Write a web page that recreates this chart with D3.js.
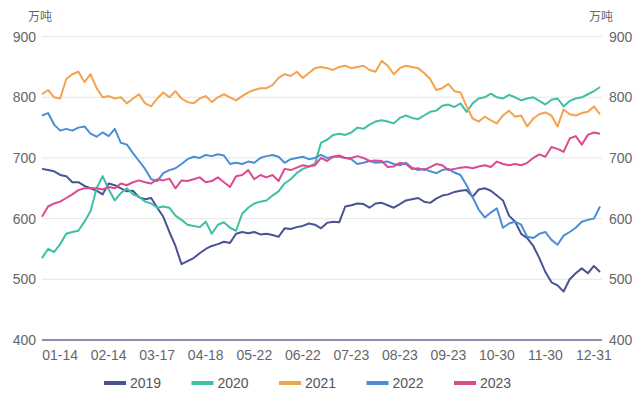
<!DOCTYPE html>
<html>
<head>
<meta charset="utf-8">
<script src="https://cdn.jsdelivr.net/npm/d3@7/dist/d3.min.js"></script>
<style>
  html, body { margin: 0; padding: 0; background: #ffffff; }
  svg { display: block; font-family: "Liberation Sans", Arial, sans-serif; }
</style>
</head>
<body>
<svg id="chart" width="635" height="395"></svg>
<script>
// Weekly-ish samples of each year's stock level (万吨), same sampling for every year
const years = ["2019", "2020", "2021", "2022", "2023"];

const s2019 = [682,680,678,672,670,660,660,654,650,646,640,658,655,650,645,646,635,632,634,618,
  603,578,555,525,530,535,543,550,555,558,562,560,575,578,576,578,574,575,573,570,
  584,583,586,588,592,590,584,593,595,594,620,622,625,624,618,625,626,622,618,624,
  630,632,634,628,626,633,638,640,644,646,647,636,648,650,646,638,630,605,595,575,
  568,555,535,512,495,490,480,500,510,518,510,522,512];

const s2020 = [535,550,545,558,575,578,580,595,612,650,670,648,630,642,650,640,636,628,625,618,
  620,618,605,598,590,588,586,595,575,590,594,585,580,608,618,625,628,630,638,645,
  658,665,675,682,686,690,725,730,738,740,738,742,750,748,755,760,762,760,757,766,
  770,766,764,770,776,778,786,788,784,790,776,790,798,800,806,800,798,804,800,795,
  798,800,794,788,796,798,785,794,798,800,805,810,817];

const s2021 = [805,812,800,798,830,838,842,825,838,815,800,802,798,800,790,798,805,790,785,798,
  808,800,810,798,792,790,798,802,792,800,805,800,795,802,808,812,815,815,820,832,
  838,835,842,832,840,848,850,848,845,850,852,848,850,852,845,842,860,852,838,848,
  852,850,848,840,830,812,815,822,810,808,785,765,760,768,762,757,770,778,768,770,
  752,765,772,775,770,752,780,772,770,774,776,785,772];

const s2022 = [770,774,755,745,748,745,750,752,740,735,742,736,748,725,722,708,695,682,665,662,
  675,680,683,690,698,702,700,705,703,706,704,690,692,690,694,692,700,703,705,702,
  692,698,700,702,698,700,705,700,702,702,700,698,690,692,695,692,693,694,690,688,
  692,684,680,682,678,675,680,682,676,672,655,635,615,602,610,617,585,592,595,590,
  570,568,575,578,565,557,572,578,585,595,598,600,620];

const s2023 = [603,620,625,628,634,640,647,650,650,650,648,652,650,658,655,660,663,660,658,665,
  663,666,650,663,662,665,668,660,662,668,660,652,670,672,680,665,672,668,672,662,
  682,680,684,688,686,688,700,695,702,704,700,700,703,700,695,696,695,685,686,692,
  690,682,683,680,685,690,688,680,682,684,685,683,686,688,685,694,690,688,690,688,
  692,700,706,702,718,715,710,732,736,722,738,742,740];

const seriesValues = [s2019, s2020, s2021, s2022, s2023];
const colors = ["#4a5296", "#3fbfa3", "#f4a24f", "#4a8ed8", "#dc4a8f"];

// Date labels shown on the category axis, one every 8 samples starting at sample 3
const tickLabels = ["01-14","02-14","03-17","04-18","05-22","06-22","07-23","08-23","09-23","10-30","11-30","12-31"];
const yTicks = [400, 500, 600, 700, 800, 900];
const unitLabel = "万吨";

const svg = d3.select("#chart");
const plotLeft = 42, plotRight = 602, plotTop = 36.6, plotBottom = 340;
const n = s2019.length;

const x = d3.scaleLinear().domain([0, n - 1]).range([plotLeft, 600]);
const y = d3.scaleLinear().domain([400, 900]).range([plotBottom, plotTop]);

// horizontal grid
svg.append("g").selectAll("line")
  .data(yTicks.filter(t => t > 400))
  .join("line")
  .attr("x1", plotLeft).attr("x2", plotRight)
  .attr("y1", d => y(d)).attr("y2", d => y(d))
  .attr("stroke", "#e6e6e6").attr("stroke-width", 1);

// left and right value axes
const axisText = "#666666";
const leftAxis = svg.append("g").attr("transform", `translate(${plotLeft - 6},0)`)
  .call(d3.axisLeft(y).tickValues(yTicks).tickSize(0).tickPadding(0));
const rightAxis = svg.append("g").attr("transform", `translate(${plotRight + 7},0)`)
  .call(d3.axisRight(y).tickValues(yTicks).tickSize(0).tickPadding(0));
[leftAxis, rightAxis].forEach(g => {
  g.select(".domain").remove();
  g.selectAll("text").attr("fill", axisText).style("font-size", "14px")
    .style("font-family", "'Liberation Sans', Arial, sans-serif");
});

svg.append("text").attr("x", 40).attr("y", 21).attr("text-anchor", "middle")
  .attr("fill", axisText).style("font-size", "12px")
  .style("font-family", "'Noto Sans CJK SC', sans-serif").text(unitLabel);
svg.append("text").attr("x", 601).attr("y", 21).attr("text-anchor", "middle")
  .attr("fill", axisText).style("font-size", "12px")
  .style("font-family", "'Noto Sans CJK SC', sans-serif").text(unitLabel);

// year lines
const line = d3.line().x((d, i) => x(i)).y(d => y(d)).curve(d3.curveLinear);
svg.append("g").selectAll("path")
  .data(seriesValues)
  .join("path")
  .attr("d", d => line(d))
  .attr("fill", "none")
  .attr("stroke", (d, i) => colors[i])
  .attr("stroke-width", 2)
  .attr("stroke-linejoin", "round");

// category axis with base line
const xAxis = svg.append("g").attr("transform", `translate(0,${plotBottom})`);
xAxis.append("line").attr("x1", plotLeft).attr("x2", plotRight).attr("y1", 0).attr("y2", 0)
  .attr("stroke", "#8e8cae").attr("stroke-width", 2);
xAxis.selectAll("text")
  .data(tickLabels)
  .join("text")
  .attr("x", (d, i) => x(3 + 8 * i))
  .attr("y", 20)
  .attr("text-anchor", "middle")
  .attr("fill", axisText)
  .style("font-size", "14px")
  .text(d => d);

// legend
const legend = svg.append("g").attr("transform", "translate(104,383)");
const item = legend.selectAll("g").data(years).join("g")
  .attr("transform", (d, i) => `translate(${i * 87.5},0)`);
item.append("line").attr("x1", 0).attr("x2", 22).attr("y1", 0).attr("y2", 0)
  .attr("stroke", (d, i) => colors[i]).attr("stroke-width", 4);
item.append("text").attr("x", 26).attr("y", 5)
  .attr("fill", "#555555").style("font-size", "14px").text(d => d);
</script>
</body>
</html>
